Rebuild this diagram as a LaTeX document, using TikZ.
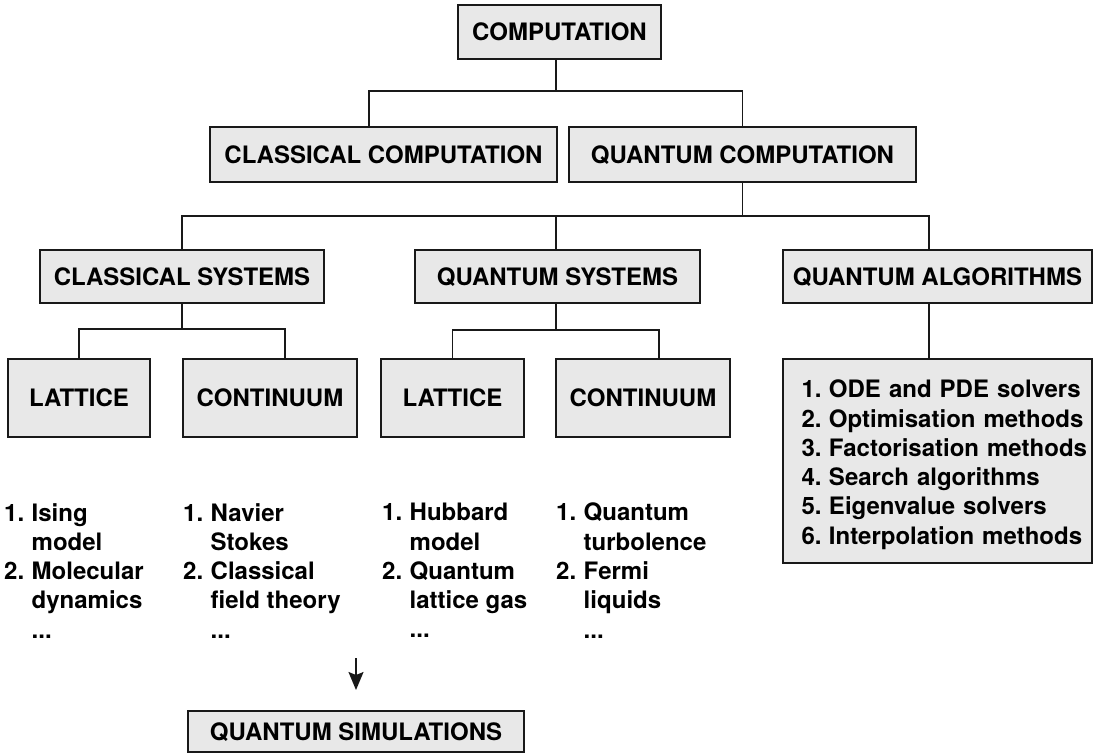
\documentclass[tikz,border=0pt]{standalone}
\usepackage{fontspec}
\setmainfont{TeX Gyre Heros}
\usepackage{tikz}
\usetikzlibrary{arrows.meta,positioning}

\definecolor{boxfill}{RGB}{232,232,232}
\definecolor{linec}{RGB}{25,25,25}
\newcommand{\itemno}[1]{\makebox[27.5pt][l]{#1}}
\newcommand{\algno}[1]{\hspace*{18.5pt}\itemno{#1}}

\begin{document}
\begin{tikzpicture}[
    x=1pt, y=-1pt,
    font=\fontsize{24pt}{29.3pt}\selectfont\bfseries,
    catbox/.style={draw=linec, fill=boxfill, line width=1.4pt, inner sep=0pt, outer sep=0pt, minimum height=54pt, text height=17.2pt, text depth=0pt},
    leafbox/.style={catbox, minimum height=78pt},
    listbox/.style={draw=linec, fill=boxfill, line width=1.4pt, inner xsep=0pt, outer sep=0pt, align=left},
    listtxt/.style={align=left, inner sep=0pt, anchor=north west},
    link/.style={draw=linec, line width=1.4pt},
    simarrow/.style={draw=linec, line width=1.5pt, -{Stealth[length=18pt,width=15pt,inset=3pt]}}
  ]
  \useasboundingbox (0,0) rectangle (1094,754);

  \node[catbox, minimum width=203pt] (comp) at (559.5,32) {COMPUTATION};
  \node[catbox, minimum width=347pt, minimum height=55pt] (ccomp) at (383.5,154.5) {CLASSICAL COMPUTATION};
  \node[catbox, minimum width=347pt, minimum height=55pt, right=12pt of ccomp] (qcomp) {QUANTUM COMPUTATION};

  \node[catbox, minimum width=284pt, minimum height=53pt] (csys) at (182,276.5) {CLASSICAL SYSTEMS};
  \node[catbox, minimum width=285pt, minimum height=53pt, right=91pt of csys] (qsys) {QUANTUM SYSTEMS};
  \node[catbox, minimum width=309pt, minimum height=53pt, right=83pt of qsys] (qalg) {QUANTUM ALGORITHMS};

  \node[leafbox, minimum width=142pt] (lat1) at (79,398) {LATTICE};
  \node[leafbox, minimum width=174pt, right=33pt of lat1] (con1) {CONTINUUM};
  \node[leafbox, minimum width=143pt, right=24pt of con1] (lat2) {LATTICE};
  \node[leafbox, minimum width=174pt, right=32pt of lat2] (con2) {CONTINUUM};

  \node[listbox, anchor=north west, text width=309pt, minimum height=204pt] (alglist) at (783,359)
    {\rule{0pt}{25.2pt}\algno{1.}ODE and PDE solvers\\ \algno{2.}Optimisation methods\\ \algno{3.}Factorisation methods\\
     \algno{4.}Search algorithms\\ \algno{5.}Eigenvalue solvers\\ \algno{6.}Interpolation methods};

  \node[listtxt] (lst1) at (4,503) {\itemno{1.}Ising\\ \itemno{}model\\ \itemno{2.}Molecular\\ \itemno{}dynamics\\ \itemno{}...};
  \node[listtxt] (lst2) at (183,503) {\itemno{1.}Navier\\ \itemno{}Stokes\\ \itemno{2.}Classical\\ \itemno{}field theory\\ \itemno{}...};
  \node[listtxt] (lst3) at (382,503) {\itemno{1.}Hubbard\\ \itemno{}model\\ \itemno{2.}Quantum\\ \itemno{}lattice gas\\ \itemno{}...};
  \node[listtxt] (lst4) at (556,503) {\itemno{1.}Quantum\\ \itemno{}turbolence\\ \itemno{2.}Fermi\\ \itemno{}liquids\\ \itemno{}...};

  \node[catbox, minimum width=336pt, minimum height=41pt] (qsim) at (356,731.5) {QUANTUM SIMULATIONS};

  \draw[link] ([xshift=-3.5pt]comp.south) -- ++(0,32) coordinate (b1);
  \draw[link] ([xshift=-14.5pt]ccomp.north) |- (b1) -| (qcomp.north);

  \draw[link] (qcomp.south) -- ++(0,34) coordinate (b2);
  \draw[link] (csys.north) |- (b2) -| ([xshift=-8.5pt]qalg.north);
  \draw[link] ([xshift=-1.5pt]qsys.north) -- ([xshift=-1.5pt]qsys.north |- b2);

  \draw[link] (csys.south) -- ++(0,26) coordinate (b3);
  \draw[link] (lat1.north) |- (b3) -| ([xshift=15pt]con1.north);
  \draw[link] ([xshift=-1.5pt]qsys.south) -- ++(0,27) coordinate (b4);
  \draw[link] (lat2.north) |- (b4) -| ([xshift=16pt]con2.north);
  \draw[link] ([xshift=-8.5pt]qalg.south) -- ([xshift=-8.5pt]alglist.north);

  \coordinate (simtop) at (356,658);
  \draw[simarrow] (simtop) -- ([yshift=21pt]qsim.north);
\end{tikzpicture}
\end{document}
